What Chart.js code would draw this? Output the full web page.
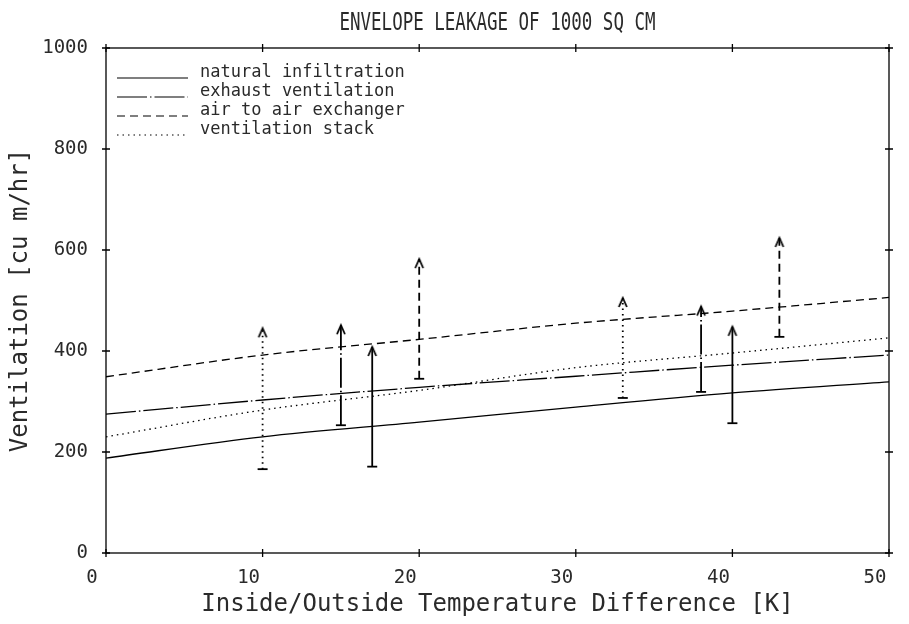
<!DOCTYPE html>
<html>
<head>
<meta charset="utf-8">
<title>Envelope leakage of 1000 sq cm</title>
<script src="https://cdn.jsdelivr.net/npm/chart.js@4.4.0/dist/chart.umd.min.js"></script>
<style>
  html, body { margin: 0; padding: 0; background: #fff; }
  #wrap { width: 909px; height: 624px; }
</style>
</head>
<body>
<div id="wrap"><canvas id="chart" width="909" height="624"></canvas></div>
<script>
// Inside/outside temperature difference [K]
const tempDiff = [0, 10, 20, 30, 40, 50];

// Ventilation [cu m/hr] for each strategy
const naturalInfiltration = [188, 230, 259, 289, 317, 339];
const exhaustVentilation = [275, 303, 328, 350, 372, 392];
const airToAirExchanger = [349, 392, 423, 455, 479, 506];
const ventilationStack = [230, 283, 322, 367, 396, 426];

// Vertical range arrows (low end with a bar, high end with an arrow head)
const arrowX = [10, 15, 17, 20, 33, 38, 40, 43];
const arrowLow = [166, 253, 171, 345, 307, 319, 257, 428];
const arrowHigh = [445, 451, 408, 582, 505, 488, 448, 624];
const arrowSeries = ['stack', 'exhaust', 'natural', 'exchanger', 'stack', 'exhaust', 'natural', 'exchanger'];

const xTicks = [0, 10, 20, 30, 40, 50];
const yTicks = [0, 200, 400, 600, 800, 1000];

const titleText = 'ENVELOPE LEAKAGE OF 1000 SQ CM';
const xTitle = 'Inside/Outside Temperature Difference [K]';
const yTitle = 'Ventilation [cu m/hr]';

const FONT = '"DejaVu Sans Mono", "Liberation Mono", monospace';
const INK = '#000';
const TEXT = '#2a2a2a';

// line style for each strategy
const seriesStyle = {
    natural: { label: 'natural infiltration', dash: [] },
    exhaust: { label: 'exhaust ventilation', dash: [30, 3, 1.5, 3] },
    exchanger: { label: 'air to air exchanger', dash: [8, 5] },
    stack: { label: 'ventilation stack', dash: [1.5, 4] }
};
const seriesValues = {
    natural: naturalInfiltration,
    exhaust: exhaustVentilation,
    exchanger: airToAirExchanger,
    stack: ventilationStack
};
const legendOrder = ['natural', 'exhaust', 'exchanger', 'stack'];

// small open arrow head, tip at the centre of the canvas
const arrowHead = (() => {
    const c = document.createElement('canvas');
    c.width = 12;
    c.height = 26;
    const g = c.getContext('2d');
    g.strokeStyle = INK;
    g.lineWidth = 1.8;
    g.beginPath();
    g.moveTo(2, 22);
    g.lineTo(6, 13);
    g.lineTo(10, 22);
    g.stroke();
    return c;
})();

const curveDatasets = legendOrder.map(key => ({
    label: seriesStyle[key].label,
    data: tempDiff.map((t, i) => ({ x: t, y: seriesValues[key][i] })),
    borderColor: INK,
    borderWidth: 1.3,
    borderDash: seriesStyle[key].dash,
    pointRadius: 0,
    cubicInterpolationMode: 'monotone',
    fill: false
}));

const arrowDatasets = arrowX.map((x, i) => ({
    label: 'arrow ' + (i + 1),
    data: [{ x: x, y: arrowLow[i] }, { x: x, y: arrowHigh[i] }],
    borderColor: INK,
    borderWidth: 1.8,
    borderDash: seriesStyle[arrowSeries[i]].dash,
    pointStyle: ['line', arrowHead],
    pointRadius: [5, 6],
    pointBorderColor: INK,
    pointBorderWidth: 1.8,
    fill: false
}));

// frame, tick crosses, title and legend
const decorations = {
    id: 'decorations',
    afterDraw(chart) {
        const ctx = chart.ctx;
        const area = chart.chartArea;
        const xs = chart.scales.x;
        const ys = chart.scales.y;
        ctx.save();
        ctx.strokeStyle = INK;
        ctx.lineWidth = 1.3;
        ctx.strokeRect(area.left, area.top, area.right - area.left, area.bottom - area.top);

        ctx.beginPath();
        xTicks.forEach(t => {
            const px = xs.getPixelForValue(t);
            ctx.moveTo(px, area.bottom - 4); ctx.lineTo(px, area.bottom + 4);
            ctx.moveTo(px, area.top - 4); ctx.lineTo(px, area.top + 4);
        });
        yTicks.forEach(v => {
            const py = ys.getPixelForValue(v);
            ctx.moveTo(area.left - 4, py); ctx.lineTo(area.left + 4, py);
            ctx.moveTo(area.right - 4, py); ctx.lineTo(area.right + 4, py);
        });
        ctx.stroke();

        // title, narrow plotter lettering
        ctx.fillStyle = TEXT;
        ctx.font = '25px ' + FONT;
        ctx.textAlign = 'center';
        ctx.textBaseline = 'middle';
        ctx.save();
        ctx.translate((area.left + area.right) / 2, 23);
        ctx.scale(0.7, 1);
        ctx.fillText(titleText, 0, 0);
        ctx.restore();

        // legend in the upper left corner of the plot
        ctx.font = '17px ' + FONT;
        ctx.textAlign = 'left';
        ctx.textBaseline = 'middle';
        legendOrder.forEach((key, i) => {
            const y = area.top + 25 + i * 19;
            ctx.beginPath();
            ctx.setLineDash(seriesStyle[key].dash);
            ctx.lineWidth = 1.2;
            ctx.moveTo(area.left + 11, y + 5);
            ctx.lineTo(area.left + 82, y + 5);
            ctx.stroke();
            ctx.setLineDash([]);
            ctx.fillText(seriesStyle[key].label, area.left + 94, y);
        });
        ctx.restore();
    }
};

new Chart(document.getElementById('chart'), {
    type: 'line',
    data: { datasets: curveDatasets.concat(arrowDatasets) },
    options: {
        responsive: false,
        animation: false,
        devicePixelRatio: 1,
        layout: { padding: { top: 48, right: 20, left: 0, bottom: 0 } },
        plugins: {
            legend: { display: false },
            tooltip: { enabled: false },
            title: { display: false }
        },
        scales: {
            x: {
                type: 'linear',
                min: 0,
                max: 50,
                afterFit: s => { s.height = 71; },
                afterBuildTicks: s => { s.ticks = xTicks.map(v => ({ value: v })); },
                ticks: {
                    color: TEXT,
                    font: { family: FONT, size: 19 },
                    padding: 6,
                    labelOffset: -14,
                    maxRotation: 0,
                    callback: v => String(v)
                },
                grid: { display: false },
                border: { display: false },
                title: {
                    display: true,
                    text: xTitle,
                    color: TEXT,
                    font: { family: FONT, size: 24 },
                    padding: { top: 0, bottom: 5 }
                }
            },
            y: {
                type: 'linear',
                min: 0,
                max: 1000,
                afterFit: s => { s.width = 106; },
                afterBuildTicks: s => { s.ticks = yTicks.map(v => ({ value: v })); },
                ticks: {
                    color: TEXT,
                    font: { family: FONT, size: 19 },
                    padding: 10,
                    callback: v => String(v)
                },
                grid: { display: false },
                border: { display: false },
                title: {
                    display: true,
                    text: yTitle,
                    color: TEXT,
                    font: { family: FONT, size: 24 },
                    padding: { top: 6, bottom: 0 }
                }
            }
        }
    },
    plugins: [decorations]
});
</script>
</body>
</html>
